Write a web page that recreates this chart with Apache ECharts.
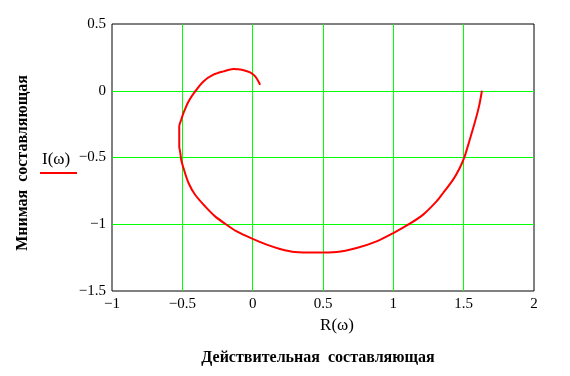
<!DOCTYPE html>
<html>
<head>
<meta charset="utf-8">
<script src="https://cdn.jsdelivr.net/npm/echarts@6/dist/echarts.min.js"></script>
<style>
  html, body { margin: 0; padding: 0; background: #fff; }
  #chart { width: 570px; height: 376px; }
</style>
</head>
<body>
<div id="chart"></div>
<script>
// R(ω), I(ω) hodograph points
const reValues = [1.630, 1.609, 1.578, 1.543, 1.507, 1.472, 1.425, 1.354, 1.307, 1.212, 1.117, 1.0, 0.881, 0.739, 0.597, 0.45, 0.3, 0.194, 0.1, 0.0, -0.113, -0.196, -0.267, -0.338, -0.409, -0.456, -0.492, -0.508, -0.515, -0.522, -0.522, -0.508, -0.492, -0.456, -0.409, -0.35, -0.279, -0.208, -0.137, -0.077, -0.018, 0.018, 0.053];
const imValues = [0.0, -0.117, -0.242, -0.367, -0.492, -0.579, -0.666, -0.766, -0.829, -0.928, -0.996, -1.066, -1.128, -1.178, -1.208, -1.212, -1.208, -1.185, -1.153, -1.11, -1.054, -0.996, -0.941, -0.866, -0.779, -0.691, -0.579, -0.517, -0.46, -0.417, -0.267, -0.217, -0.167, -0.08, -0.005, 0.07, 0.12, 0.145, 0.163, 0.158, 0.137, 0.107, 0.045];

const xTitle = 'R(\u03c9)';
const yTitle = 'I(\u03c9)';
const xCaption = 'Действительная  составляющая';
const yCaption = 'Мнимая  составляющая';

const serif = '"Liberation Serif", "DejaVu Serif", serif';
const fmt = (v) => String(v).replace('-', '\u2212');

const chart = echarts.init(document.getElementById('chart'));
chart.setOption({
  animation: false,
  grid: {
    left: 112, right: 36, top: 24, bottom: 85,
    show: true, borderColor: '#000', borderWidth: 1,
  },
  xAxis: {
    type: 'value',
    min: -1, max: 2, interval: 0.5,
    axisLine: { show: false },
    axisTick: { show: false },
    axisLabel: { color: '#000', fontFamily: serif, fontSize: 15, margin: 6, formatter: fmt },
    splitLine: { lineStyle: { color: '#00ff00', width: 1 }, showMinLine: false, showMaxLine: false },
  },
  yAxis: {
    type: 'value',
    min: -1.5, max: 0.5, interval: 0.5,
    axisLine: { show: false },
    axisTick: { show: false },
    axisLabel: { color: '#000', fontFamily: serif, fontSize: 15, margin: 6, formatter: fmt },
    splitLine: { lineStyle: { color: '#00ff00', width: 1 }, showMinLine: false, showMaxLine: false },
  },
  series: [{
    type: 'line',
    data: reValues.map((x, i) => [x, imValues[i]]),
    smooth: 0.3,
    symbol: 'none',
    lineStyle: { color: '#ff0000', width: 2 },
    z: 5,
  }],
  graphic: [
    { type: 'text', x: 337, y: 326,
      style: { text: xTitle, font: '17px ' + serif, fill: '#000', align: 'center', verticalAlign: 'middle' } },
    { type: 'text', x: 318, y: 358,
      style: { text: xCaption, font: 'bold 16px ' + serif, fill: '#000', align: 'center', verticalAlign: 'middle' } },
    { type: 'text', x: 42, y: 160,
      style: { text: yTitle, font: '17px ' + serif, fill: '#000', align: 'left', verticalAlign: 'middle' } },
    { type: 'line', shape: { x1: 40, y1: 173, x2: 77, y2: 173 }, style: { stroke: '#ff0000', lineWidth: 2 } },
    { type: 'text', x: 23, y: 163, rotation: Math.PI / 2,
      style: { text: yCaption, font: 'bold 16px ' + serif, fill: '#000', align: 'center', verticalAlign: 'middle' } },
  ],
});
</script>
</body>
</html>
